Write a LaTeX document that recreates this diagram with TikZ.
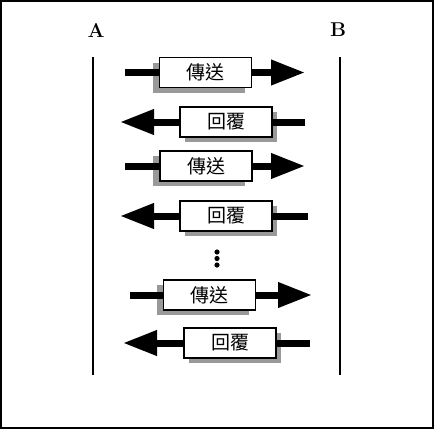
\documentclass[tikz,border=0pt]{standalone}
\usepackage{fontspec}
\newfontfamily\cjk{Noto Sans CJK TC}
\usetikzlibrary{arrows.meta,shadows}

\begin{document}
\begin{tikzpicture}[x=1pt,y=-1pt,
    msg/.style={draw,line width=1.5pt,fill=white,minimum width=92pt,minimum height=30pt,
      inner sep=0pt,font=\cjk\fontsize{19}{20}\selectfont},
    sendbox/.style={msg,general shadow={fill=black!40,shadow xshift=-7pt,shadow yshift=-5pt}},
    replybox/.style={msg,general shadow={fill=black!40,shadow xshift=5pt,shadow yshift=-5pt}},
    bar/.style={line width=7pt},
    ptr/.style={bar,-{Triangle[length=34pt,width=24pt]}},
    party/.style={font=\fontsize{20}{22}\selectfont\bfseries},
    lifeline/.style={line width=2pt}]
  \useasboundingbox (0,0) rectangle (434,429);
  \draw[line width=2pt] (1,1) rectangle (433,428);
  % parties
  \node[party] (a) at (96,30) {A};
  \node[party] (b) at (338,30) {B};
  \coordinate (atop) at (93,57);
  \coordinate (abot) at (93,375);
  \coordinate (btop) at (340,57);
  \coordinate (bbot) at (340,375);
  \draw[lifeline] (atop) -- (abot);
  \draw[lifeline] (btop) -- (bbot);
  % messages
  \node[sendbox] (s1) at (205.5,72.5) {傳送};
  \node[replybox] (r1) at (226,122) {回覆};
  \node[sendbox] (s2) at (206,166) {傳送};
  \node[replybox] (r2) at (226,216) {回覆};
  \node[sendbox] (s3) at (209.5,295) {傳送};
  \node[replybox] (r3) at (230,343) {回覆};
  \coordinate (s1l) at (125,72.5);
  \coordinate (s1r) at (305,72.5);
  \coordinate (r1l) at (120,122);
  \coordinate (r1r) at (305,122);
  \coordinate (s2l) at (125,166);
  \coordinate (s2r) at (305,166);
  \coordinate (r2l) at (120,216);
  \coordinate (r2r) at (308,216);
  \coordinate (s3l) at (130,295);
  \coordinate (s3r) at (312,295);
  \coordinate (r3l) at (123,343);
  \coordinate (r3r) at (310,343);
  \draw[bar] (s1l) -- (s1.west);
  \draw[ptr] (s1.east) -- (s1r);
  \draw[ptr] (r1.west) -- (r1l);
  \draw[bar] (r1.east) -- (r1r);
  \draw[bar] (s2l) -- (s2.west);
  \draw[ptr] (s2.east) -- (s2r);
  \draw[ptr] (r2.west) -- (r2l);
  \draw[bar] (r2.east) -- (r2r);
  \draw[bar] (s3l) -- (s3.west);
  \draw[ptr] (s3.east) -- (s3r);
  \draw[ptr] (r3.west) -- (r3l);
  \draw[bar] (r3.east) -- (r3r);
  % gap
  \foreach \y in {252,258.5,265}
    \fill (217,\y) circle (2.6);
\end{tikzpicture}
\end{document}
